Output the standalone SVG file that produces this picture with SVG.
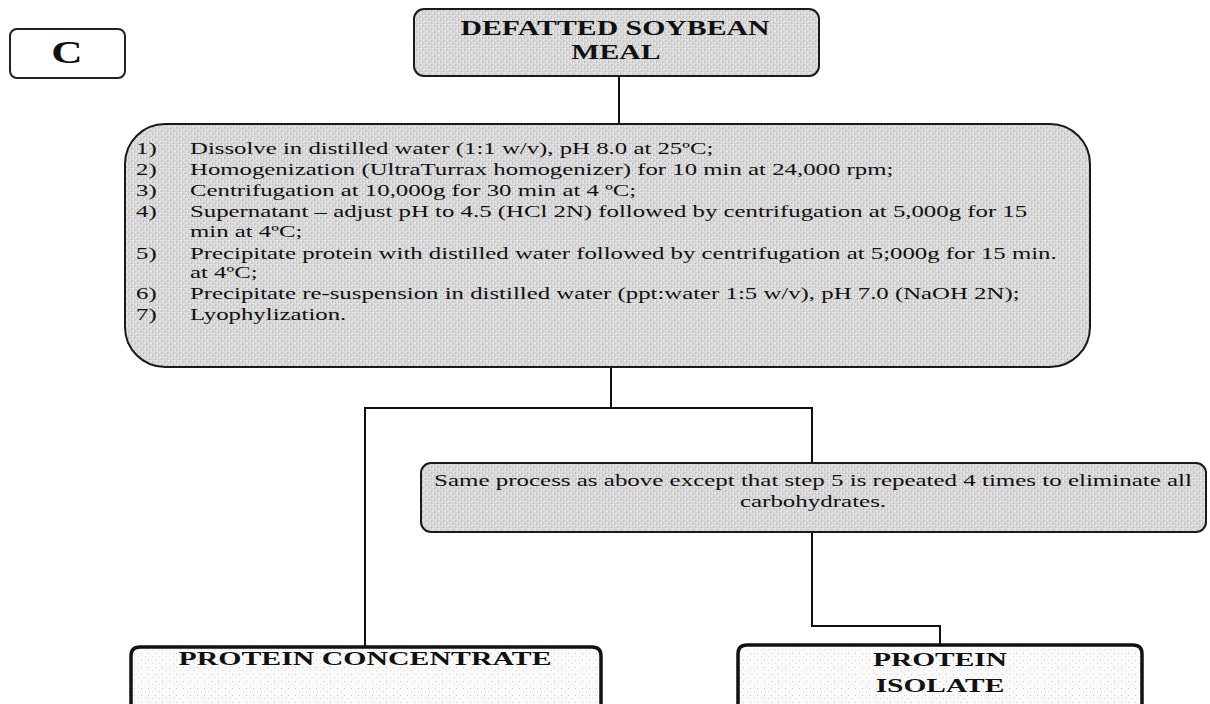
<svg xmlns="http://www.w3.org/2000/svg" width="1210" height="704" viewBox="0 0 1210 704">
<defs>
<pattern id="tex" width="6" height="6" patternUnits="userSpaceOnUse">
<rect width="6" height="6" fill="#d5d5d5"/>
<path d="M0 1h2M3 4h2M4 0h1M1 3h1" stroke="#f4f4f4" stroke-width="1"/>
<path d="M2 2h1M5 5h1" stroke="#ababab" stroke-width="1"/>
</pattern>
<pattern id="dots" width="7" height="7" patternUnits="userSpaceOnUse">
<rect width="7" height="7" fill="#fbfbfb"/>
<rect x="1" y="2" width="1" height="1" fill="#c8c8c8"/>
<rect x="5" y="5" width="1" height="1" fill="#d8d8d8"/>
</pattern>
</defs>
<style>
.box{stroke:#1a1a1a;stroke-width:2;fill:url(#tex)}
.thick{stroke:#111;stroke-width:3.5;fill:url(#dots)}
.plain{stroke:#222;stroke-width:2;fill:#fff}
.t{font-family:"Liberation Serif","Times New Roman",serif;font-size:16px;fill:#111}
.b{font-family:"Liberation Serif","Times New Roman",serif;font-weight:bold;font-size:20px;fill:#111}
.s{font-size:19px}
.ln{stroke:#111;stroke-width:2;fill:none}
</style>
<rect width="1210" height="704" fill="#fff"/>
<g id="label-c">
<rect class="plain" x="10" y="29" width="115" height="49" rx="7"/>
<text class="b" transform="matrix(1.4 0 0 1 67 63)" text-anchor="middle" style="font-size:31px">C</text>
</g>
<g id="connectors">
<path class="ln" d="M619 76V124"/>
<path class="ln" d="M611 367V408H365V647"/>
<path class="ln" d="M611 408H812V463"/>
<path class="ln" d="M812 532V626H940V645"/>
</g>
<g id="defatted">
<rect class="box" x="414" y="9" width="405" height="67" rx="10"/>
<text class="b" transform="matrix(1.49 0 0 1 615 35)" text-anchor="middle">DEFATTED SOYBEAN</text>
<text class="b" transform="matrix(1.49 0 0 1 616 59)" text-anchor="middle">MEAL</text>
</g>
<g id="process">
<rect class="box" x="125" y="124" width="965" height="243" rx="40"/>
<g class="t" transform="matrix(1.55 0 0 1 136 0)">
<text y="154">1)</text>
<text y="175">2)</text>
<text y="196">3)</text>
<text y="217">4)</text>
<text y="259">5)</text>
<text y="299">6)</text>
<text y="320">7)</text>
</g>
<g class="t" transform="matrix(1.55 0 0 1 190 0)">
<text y="154">Dissolve in distilled water (1:1 w/v), pH 8.0 at 25ºC;</text>
<text y="175">Homogenization (UltraTurrax homogenizer) for 10 min at 24,000 rpm;</text>
<text y="196">Centrifugation at 10,000g for 30 min at 4 ºC;</text>
<text y="217">Supernatant – adjust pH to 4.5 (HCl 2N) followed by centrifugation at 5,000g for 15</text>
<text y="237">min at 4ºC;</text>
<text y="259">Precipitate protein with distilled water followed by centrifugation at 5;000g for 15 min.</text>
<text y="278">at 4ºC;</text>
<text y="299">Precipitate re-suspension in distilled water (ppt:water 1:5 w/v), pH 7.0 (NaOH 2N);</text>
<text y="320">Lyophylization.</text>
</g>
</g>
<g id="same-process">
<rect class="box" x="421" y="463" width="785" height="69" rx="10"/>
<text class="t" transform="matrix(1.56 0 0 1 813 486)" text-anchor="middle">Same process as above except that step 5 is repeated 4 times to eliminate all</text>
<text class="t" transform="matrix(1.56 0 0 1 813 507)" text-anchor="middle">carbohydrates.</text>
</g>
<g id="concentrate">
<path class="thick" d="M131 712V656Q131 647 140 647H592Q601 647 601 656V712"/>
<text class="b s" transform="matrix(1.57 0 0 1 365 665)" text-anchor="middle">PROTEIN CONCENTRATE</text>
</g>
<g id="isolate">
<path class="thick" d="M738 712V654Q738 645 747 645H1133Q1142 645 1142 654V712"/>
<text class="b s" transform="matrix(1.55 0 0 1 940 666)" text-anchor="middle">PROTEIN</text>
<text class="b s" transform="matrix(1.55 0 0 1 940 692)" text-anchor="middle">ISOLATE</text>
</g>
</svg>
